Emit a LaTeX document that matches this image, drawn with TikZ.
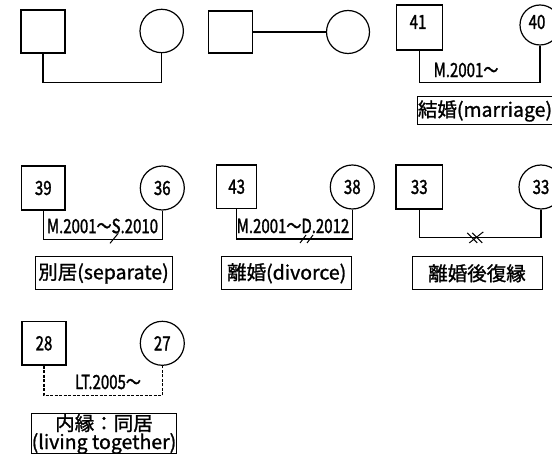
\documentclass[tikz,border=0pt]{standalone}
\usepackage{fontspec}
\setmainfont{Noto Sans CJK JP}[FakeBold=1.2]
\newfontfamily\narrowfont{Noto Sans CJK JP}[FakeStretch=0.77, FakeBold=1.4]
\newfontfamily\capfont{Noto Sans CJK JP}[FakeBold=1.2]
\usetikzlibrary{calc}

\begin{document}
\begin{tikzpicture}[x=1pt,y=-1pt,
  person/.style={draw, line width=1.2pt, inner sep=0pt,
    font=\narrowfont\fontsize{19.5}{20}\selectfont},
  male/.style={person, rectangle, minimum width=44pt, minimum height=43pt},
  female/.style={person, circle, minimum size=44pt},
  tie/.style={line width=1.2pt},
  cohab/.style={line width=1.1pt, dash pattern=on 3pt off 1.5pt},
  tick/.style={line width=1pt},
  date/.style={font=\narrowfont\fontsize{19.5}{20}\selectfont, inner sep=0pt},
  caption/.style={draw, line width=1pt, inner sep=0pt, align=center,
    font=\capfont\fontsize{19.5}{21}\selectfont}]
\useasboundingbox (0,0) rectangle (552,454);
\clip (0,0) rectangle (552,454);

% --- row 1: couple joined below
\node[male] (m1) at (43,31.5) {};
\node[female, minimum size=43.4pt] (f1) at (161.7,31) {};
\draw[tie] (m1.south) -- ++(0,29) -| (f1.south);

% --- row 1: couple joined side by side
\node[male, minimum height=42pt] (m2) at (230.5,32) {};
\node[female, minimum size=43pt] (f2) at (348,32) {};
\draw[tie] (m2.east) -- (f2.west);

% --- row 1: marriage
\node[male, minimum width=46.7pt, minimum height=45pt] (m3) at (419.5,27.5) {};
\node[person, draw=none] (m3age) at (418,22) {41};
\node[female, minimum size=40pt] (f3) at (540,25) {};
\node[person, draw=none] (f3age) at (537,22) {40};
\draw[tie] (m3.south) -- ++(0,31.7) -| (f3.south);
\node[date] (d3) at (466,70) {M.2001～};
\node[caption, minimum width=133pt, minimum height=28pt] (c3) at (485,111) {結婚(marriage)};

% --- row 2: separation
\node[male, minimum width=43.3pt, minimum height=44pt] (m4) at (43.3,188) {39};
\node[female] (f4) at (162.3,188) {36};
\draw[tie] (m4.south) -- ++(0,29.3) -| (f4.south);
\node[date] (d4) at (102.5,226) {M.2001～S.2010};
\draw[tick] (110,243.3) -- (118.3,233.3);
\node[caption, minimum width=137pt, minimum height=33pt] (c4) at (103.5,273.5) {別居(separate)};

% --- row 2: divorce
\node[male, minimum width=40pt, minimum height=43.3pt] (m5) at (236.7,186.7) {43};
\node[female] (f5) at (352.3,187) {38};
\draw[tie] (m5.south) -- ++(0,30) -| (f5.south);
\node[date] (d5) at (293,226) {M.2001～D.2012};
\draw[tick] (300,243) -- (306,235) (307,243) -- (313,235);
\node[caption, minimum width=130pt, minimum height=33pt] (c5) at (286.7,273.3) {離婚(divorce)};

% --- row 2: remarriage after divorce
\node[male, minimum width=46.7pt, minimum height=44pt] (m6) at (419.3,187) {33};
\node[female] (f6) at (541,187) {33};
\draw[tie] (m6.south) -- ++(0,28.3) -| (f6.south) coordinate[pos=0.23] (r6);
\draw[tick] ($(r6)+(-8,-5)$) -- ($(r6)+(2,5)$)
            ($(r6)+(-3,-5)$) -- ($(r6)+(7,5)$)
            ($(r6)+(-6,5)$) -- ($(r6)+(8,-6)$);
\node[caption, minimum width=130pt, minimum height=33pt] (c6) at (477,273.3) {離婚後復縁};

% --- row 3: living together
\node[male, minimum height=43.3pt] (m7) at (44,343.3) {28};
\node[female] (f7) at (162.3,343.3) {27};
\draw[cohab] (m7.south) -- ++(0,30) -| (f7.south);
\node[date] (d7) at (108,382) {LT.2005～};
\node[caption, minimum width=145pt, minimum height=40pt,
  font=\capfont\fontsize{19.5}{17}\selectfont] (c7) at (104,434) {内縁：同居\\(living together)};
\end{tikzpicture}
\end{document}
